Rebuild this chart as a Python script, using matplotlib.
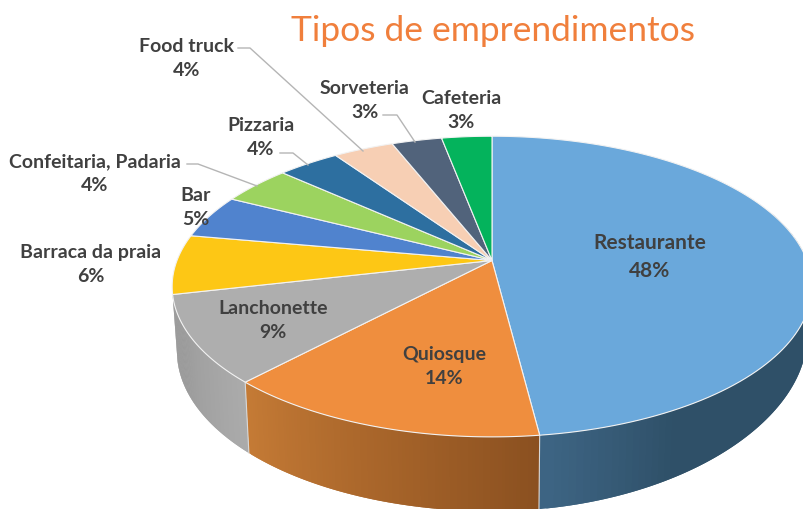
"""Tipos de emprendimentos, 3D pie drawn by hand in pixel coordinates."""

import numpy as np
import matplotlib
matplotlib.use("Agg")
import matplotlib.pyplot as plt
from matplotlib.colors import to_rgb

categories = ["Restaurante", "Quiosque", "Lanchonette", "Barraca da praia", "Bar",
              "Confeitaria, Padaria", "Pizzaria", "Food truck", "Sorveteria", "Cafeteria"]
values = [48, 14, 9.4, 6.4, 4.7, 4.2, 3.7, 3.6, 3, 3]
colors = ["#6AA8DB", "#EF8E3E", "#AEAEAE", "#FDC715", "#5083CE",
          "#9CD35F", "#2D6FA0", "#F7CFB4", "#51637B", "#04B35C"]

# wall shading of the three visible slices, clockwise start to end
wall_shades = {
    0: ["#2F5068", "#2F5068", "#2F5068", "#2F5068", "#2F5068", "#3D6483"],
    1: ["#8A5020", "#A8652A", "#C47A35"],
    2: ["#ABABAB", "#A0A0A0", "#929292"],
}

label_pos = [(650, 257), (444, 367), (273, 321), (91, 265), (196, 208),
             (95, 174), (261, 138), (187, 58), (365, 100), (461, 110)]
label_size = [15, 14, 14, 14, 14, 14, 14, 14, 14, 14]

leaders = {
    5: [(187, 165), (198, 165), (257, 187)],
    6: [(280, 154), (293, 154), (308, 166)],
    7: [(238, 49), (250, 49), (363, 152)],
    8: [(383, 116), (397, 116), (415, 143)],
}

CX, CY, RX, RY, K = 492, 261.5, 315, 100.5, 0.1733
DEPTH, SHRINK = 63, 0.985

plt.rcParams["font.family"] = ["Lato", "DejaVu Sans"]


def rim(theta, lower=False):
    # unit circle through a perspective map, theta clockwise from the back
    theta = np.radians(theta)
    x, y = np.sin(theta), np.cos(theta)
    w = 1 + K * y
    if not lower:
        return CX + RX * x / w, (CY - RY * y) / w
    d = DEPTH * (1 - 0.24 * np.clip(x, 0, 1) ** 2)
    return CX + RX * SHRINK * x / w, (CY - RY * SHRINK * y + d) / w


fig = plt.figure(figsize=(8.04, 5.10), dpi=100)
ax = fig.add_axes([0, 0, 1, 1])
ax.set_xlim(0, 804)
ax.set_ylim(510, 0)
ax.axis("off")

edges = np.concatenate([[0], np.cumsum(values)]) / np.sum(values) * 360

# side wall, strips overlap the next one so no seams show
for i, shades in wall_shades.items():
    a0 = 70 if i == 0 else edges[i]
    a1 = edges[i + 1]
    steps = np.linspace(a0, a1, 90)
    rgb = np.array([to_rgb(c) for c in shades])
    stops = np.linspace(0, 1, len(shades))
    for j in range(len(steps) - 1):
        t = j / (len(steps) - 2)
        col = [np.interp(t, stops, rgb[:, n]) for n in range(3)]
        span = steps[max(j - 1, 0):j + 2]
        xt, yt = rim(span)
        xb, yb = rim(span, lower=True)
        ax.fill(np.r_[xt, xb[::-1]], np.r_[yt, yb[::-1]], color=col, lw=0, zorder=1)
    xt, yt = rim(a1)
    xb, yb = rim(a1, lower=True)
    if i < 2:
        ax.plot([xt, xb], [yt, yb], color="#D8D8D8", lw=0.8, zorder=2)

# top face
for i, col in enumerate(colors):
    xs, ys = rim(np.linspace(edges[i], edges[i + 1], 120))
    ax.fill(np.r_[CX, xs], np.r_[CY, ys], facecolor=col, edgecolor="#F2F2F2", lw=0.8, zorder=3)

for pts in leaders.values():
    px, py = zip(*pts)
    ax.plot(px, py, color="#B5B5B5", lw=1.0, zorder=4)

for name, val, (lx, ly), size in zip(categories, values, label_pos, label_size):
    ax.text(lx, ly, f"{name}\n{val:.0f}%", ha="center", va="center", fontsize=size,
            fontweight="bold", color="#404040", linespacing=1.5, zorder=5)

ax.text(493, 31, "Tipos de emprendimentos", ha="center", va="center", fontsize=25.5,
        color="#F07F3C", zorder=5)

fig.savefig("out.png", dpi=100)
plt.close(fig)
